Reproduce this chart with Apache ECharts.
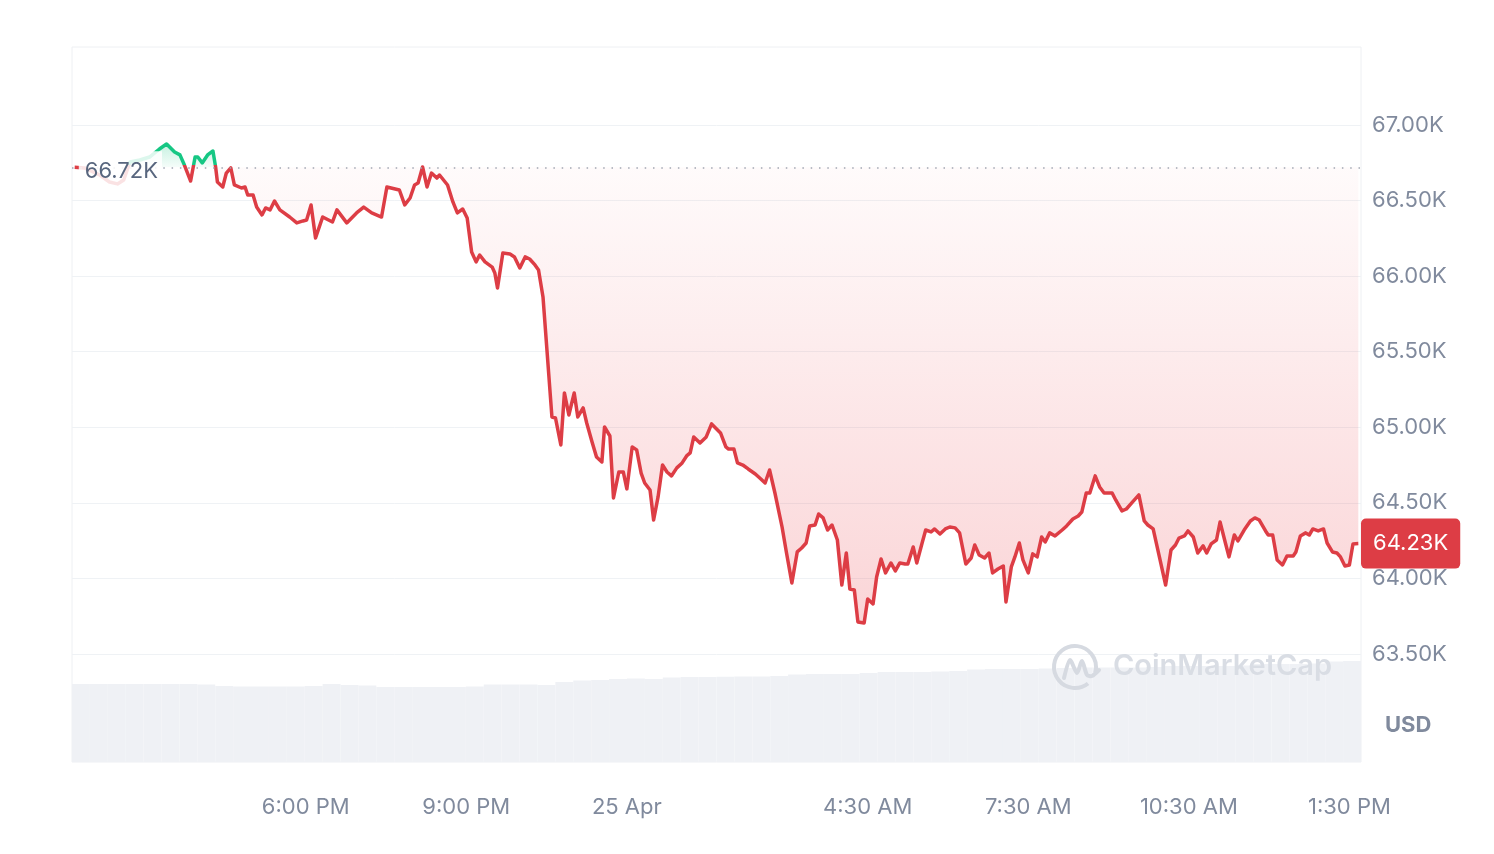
<!DOCTYPE html>
<html><head><meta charset="utf-8">
<script src="https://cdn.jsdelivr.net/npm/echarts@6/dist/echarts.min.js"></script>
<style>html,body{margin:0;padding:0;background:#fff;}#c{width:1494px;height:854px;}</style>
</head><body><div id="c"></div>
<script>
// minutes relative to 00:00 on 25 Apr (negative = 24 Apr)
const priceMinutes = [-619,-608,-591,-580,-571,-564,-557,-546,-535,-524,-516,-507,-501,-496,-489,-484,-481,-476,-470,-464,-461,-459,-453,-449,-444,-440,-432,-428,-425,-419,-415,-409,-405,-400,-395,-389,-378,-370,-363,-359,-354,-349,-341,-330,-325,-314,-303,-295,-286,-275,-269,-255,-249,-243,-238,-234,-229,-224,-219,-213,-210,-201,-195,-190,-184,-179,-174,-169,-165,-159,-151,-148,-145,-139,-131,-126,-120,-114,-109,-103,-99,-94,-84,-80,-74,-70,-65,-59,-55,-49,-45,-39,-34,-28,-25,-19,-15,-9,-4,0,6,11,16,20,26,30,35,40,45,50,56,62,67,71,75,82,89,95,105,111,114,120,124,130,136,144,149,155,160,166,174,179,185,191,196,201,205,211,215,220,225,230,236,241,246,250,255,259,266,270,276,280,285,290,296,301,306,312,315,321,325,331,335,341,345,351,357,362,368,373,380,386,390,395,401,406,410,416,422,425,431,435,440,444,450,455,460,465,469,474,480,488,493,500,506,510,515,519,525,530,535,544,548,555,560,566,574,580,584,590,597,604,610,615,619,625,629,635,640,646,650,655,661,665,671,675,681,685,692,699,704,709,716,719,724,729,735,740,747,750,755,761,765,769,775,781,785,791,796,800,805,810,814,820];
const priceValues = [66720,66716,66669,66623,66610,66636,66755,66768,66788,66841,66874,66821,66802,66735,66629,66788,66788,66749,66802,66828,66722,66623,66590,66682,66716,66603,66583,66590,66537,66537,66457,66405,66451,66438,66497,66438,66391,66352,66365,66371,66471,66252,66391,66358,66438,66352,66418,66457,66418,66391,66590,66570,66471,66517,66603,66616,66722,66590,66682,66649,66669,66603,66491,66418,66444,66385,66160,66094,66140,66094,66060,66021,65922,66153,66146,66127,66054,66127,66113,66074,66041,65862,65068,65061,64883,65227,65081,65227,65068,65128,65028,64903,64803,64770,65002,64942,64532,64704,64704,64592,64870,64850,64697,64631,64585,64386,64539,64750,64704,64678,64731,64764,64810,64830,64936,64896,64936,65022,64962,64870,64856,64856,64764,64750,64724,64691,64664,64631,64717,64565,64340,64168,63970,64175,64201,64234,64347,64353,64426,64400,64320,64353,64254,63956,64168,63930,63923,63712,63705,63864,63831,64009,64128,64036,64102,64049,64102,64095,64095,64208,64102,64234,64320,64307,64327,64294,64327,64340,64334,64301,64095,64135,64221,64155,64135,64168,64036,64062,64082,63844,64076,64142,64234,64122,64036,64162,64142,64274,64241,64301,64281,64320,64347,64393,64413,64439,64565,64565,64678,64605,64565,64565,64519,64446,64459,64499,64552,64380,64353,64327,64142,63956,64188,64221,64267,64281,64314,64274,64168,64215,64168,64228,64254,64373,64234,64142,64287,64248,64320,64380,64400,64386,64314,64287,64287,64122,64089,64148,64148,64175,64281,64301,64287,64327,64314,64327,64234,64175,64168,64142,64082,64089,64228,64230];
// 24h volume (billion USD), one bar per 20 minutes
const volumeValues = [24.07,24.07,24.07,24.07,24.07,24.07,24.07,23.92,23.45,23.30,23.30,23.30,23.30,23.45,24.07,23.76,23.61,23.15,23.15,23.15,23.15,23.15,23.30,23.92,23.92,23.92,23.76,24.69,25.15,25.31,25.61,25.77,25.61,26.08,26.23,26.23,26.32,26.39,26.39,26.54,27.00,27.16,27.16,27.16,27.47,27.78,27.78,27.78,27.93,28.09,28.55,28.70,28.70,28.70,28.86,29.01,29.17,29.17,29.17,29.17,29.32,29.63,29.63,29.63,29.63,29.78,30.25,30.25,30.25,30.40,31.02,31.17];
const xTickMinutes = [-360,-180,0,270,450,630,810];
const xTickLabels = ['6:00 PM','9:00 PM','25 Apr','4:30 AM','7:30 AM','10:30 AM','1:30 PM'];
const yTickValues = [63500,64000,64500,65000,65500,66000,66500,67000];

const chart = echarts.init(document.getElementById('c'));
const n = Math.min(priceMinutes.length, priceValues.length);
const priceData = [];
for (let i = 0; i < n; i++) priceData.push([priceMinutes[i], priceValues[i]]);
const base = priceValues[0];
const last = priceValues[n - 1];
const pmax = Math.max(...priceValues), pmin = Math.min(...priceValues);
const baseStop = (pmax - base) / (pmax - pmin);
const fmtK = v => (v / 1000).toFixed(2) + 'K';
const GREEN = '#16c784', RED = '#dd3d45', GRAY = '#808a9d';
const FONT = 'Inter';

const option = {
  animation: false,
  backgroundColor: '#ffffff',
  textStyle: { fontFamily: FONT },
  title: { text: 'USD', left: 1385, top: 714, padding: 0,
    textStyle: { color: GRAY, fontSize: 22, fontWeight: 700, fontFamily: FONT } },
  grid: [
    { left: 72, right: 133, top: 47, bottom: 92, show: true, borderColor: '#eef0f3', borderWidth: 1 },
    { left: 72, right: 133, top: 600, bottom: 92 }
  ],
  xAxis: [
    { type: 'value', gridIndex: 0, min: -622, max: 823,
      axisLine: { show: false }, axisTick: { show: false, customValues: xTickMinutes },
      splitLine: { show: false },
      axisLabel: { customValues: xTickMinutes, color: GRAY, fontSize: 22, margin: 34, fontFamily: FONT,
        formatter: v => { const i = xTickMinutes.indexOf(v); return i < 0 ? '' : xTickLabels[i]; } } },
    { type: 'category', gridIndex: 1, data: volumeValues.map((_, i) => i), show: false }
  ],
  yAxis: [
    { type: 'value', gridIndex: 0, position: 'right', min: 62785, max: 67516,
      axisLine: { show: false }, axisTick: { show: false, customValues: yTickValues },
      axisLabel: { customValues: yTickValues, formatter: fmtK, color: GRAY, fontSize: 22, margin: 11,
        fontFamily: FONT, padding: [4, 0, 0, 0] },
      splitLine: { show: true, lineStyle: { color: '#eff2f5', width: 1 } } },
    { type: 'value', gridIndex: 1, min: 0, max: 50, show: false }
  ],
  graphic: [
    { type: 'arc', silent: true, z: 100,
      shape: { cx: 1075, cy: 667, r: 21, startAngle: 0.9, endAngle: 6.55, clockwise: true },
      style: { stroke: '#d6dae1', lineWidth: 4, fill: null } },
    { type: 'polyline', silent: true, z: 100,
      shape: { points: [[1064, 678], [1070, 660], [1077, 673], [1082, 661], [1087, 675], [1092, 676], [1099, 670]], smooth: 0.25 },
      style: { stroke: '#d6dae1', lineWidth: 4, fill: null, lineCap: 'round', lineJoin: 'round' } },
    { type: 'text', silent: true, z: 100, left: 1113, top: 652,
      style: { text: 'CoinMarketCap', fill: '#d9dde4', font: '600 29px Inter' } }
  ],
  series: [
    { type: 'bar', xAxisIndex: 1, yAxisIndex: 1, data: volumeValues, barCategoryGap: '0%',
      itemStyle: { color: '#eff1f5' }, silent: true, z: 1 },
    { type: 'line', xAxisIndex: 0, yAxisIndex: 0, data: priceData, showSymbol: false, z: 3, clip: false,
      lineStyle: { width: 3.5, join: 'round', color: { type: 'linear', x: 0, y: 0, x2: 0, y2: 1, colorStops: [
        { offset: 0, color: GREEN }, { offset: baseStop, color: GREEN },
        { offset: baseStop, color: RED }, { offset: 1, color: RED } ] } },
      areaStyle: { origin: base, color: { type: 'linear', x: 0, y: 0, x2: 0, y2: 1, colorStops: [
        { offset: 0, color: 'rgba(22,199,132,0.35)' },
        { offset: baseStop, color: 'rgba(22,199,132,0.06)' },
        { offset: baseStop, color: 'rgba(234,57,67,0.03)' },
        { offset: 1, color: 'rgba(234,57,67,0.30)' } ] } },
      markLine: { symbol: ['none', 'none'], silent: true, animation: false,
        data: [
          { yAxis: base, lineStyle: { color: '#a1a7b3', type: [1.5, 6.8], width: 1.5 },
            label: { show: true, position: 'start', distance: -90, formatter: fmtK(base), color: '#58667e',
              fontSize: 22, fontFamily: FONT, backgroundColor: 'rgba(255,255,255,0.85)',
              padding: [9, 4, 9, 6], offset: [0, 4] } },
          { yAxis: last, lineStyle: { color: 'rgba(0,0,0,0)', width: 0 },
            label: { show: true, position: 'end', distance: 0, formatter: fmtK(last), color: '#ffffff',
              fontSize: 22, fontFamily: FONT, backgroundColor: RED, padding: [14, 12], borderRadius: 5 } }
        ] } }
  ]
};
chart.setOption(option);
</script></body></html>
